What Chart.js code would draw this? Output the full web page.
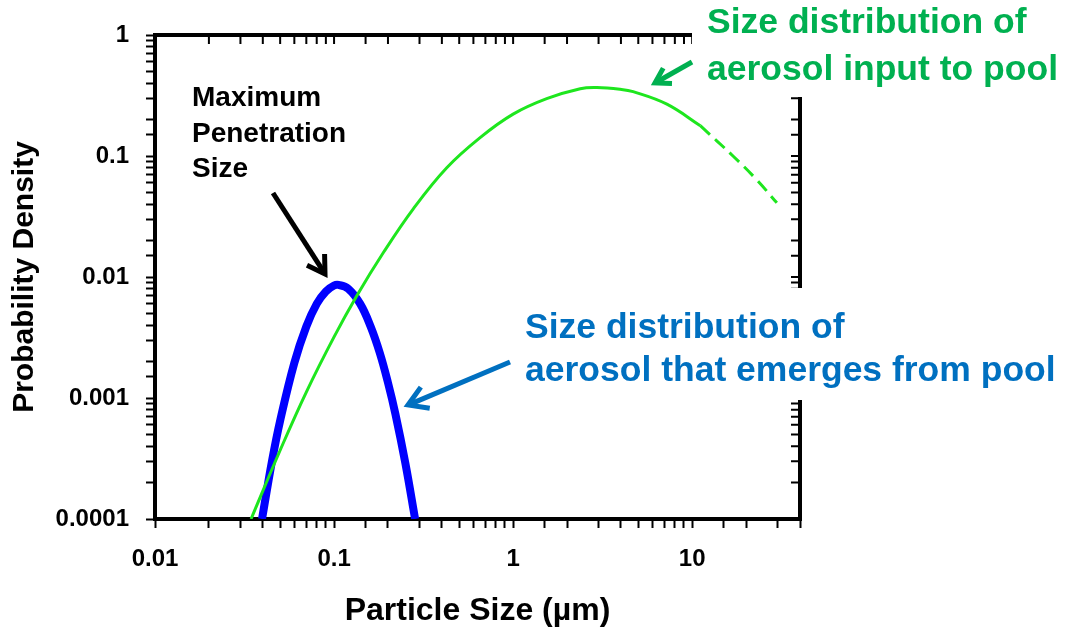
<!DOCTYPE html>
<html>
<head>
<meta charset="utf-8">
<title>Particle size distributions</title>
<script src="https://cdn.jsdelivr.net/npm/chart.js@4/dist/chart.umd.min.js"></script>
<style>
    body { margin: 0; background: #ffffff; }
    #wrap { width: 1071px; height: 633px; }
</style>
</head>
<body>
<div id="wrap"><canvas id="size-chart" width="1071" height="633"></canvas></div>
<script>
// size-chart - input aerosol vs aerosol that gets through the pool
// log-log plot, probability density vs particle size


// green curve - aerosol going into the pool (solid part)
const inputSizes = [0.0344, 0.05, 0.07, 0.1, 0.134, 0.189, 0.277, 0.426, 0.654, 1.0, 1.54, 2.37, 2.94, 3.96, 4.68, 7.22, 11.1];
const inputDensity = [0.0001, 0.00037, 0.00112, 0.0032, 0.007, 0.016, 0.0366, 0.08, 0.142, 0.222, 0.298, 0.36, 0.368, 0.356, 0.34, 0.268, 0.178];

// green curve - dashed tail past ~11 um
const tailSizes = [11.1, 16.9, 23.0, 29.7];
const tailDensity = [0.178, 0.100, 0.0633, 0.041];

// blue curve - aerosol that comes out of the pool
const outputSizes = [0.0396, 0.045, 0.05, 0.06, 0.07, 0.08, 0.09, 0.1, 0.106, 0.12, 0.14, 0.16, 0.18, 0.2, 0.22, 0.25, 0.2835];
const outputDensity = [0.0001, 0.0003, 0.00065, 0.00195, 0.0039, 0.006, 0.0076, 0.0085, 0.0086, 0.008, 0.006, 0.0039, 0.00236, 0.00134, 0.00074, 0.00029, 0.0001];

// axis ticks that get a label
const xTickValues = [0.01, 0.1, 1, 10];
const xTickLabels = ['0.01', '0.1', '1', '10'];
const yTickValues = [0.0001, 0.001, 0.01, 0.1, 1];
const yTickLabels = ['0.0001', '0.001', '0.01', '0.1', '1'];

// colors
const COLOR_LIME = '#1ee61e';
const COLOR_BLUE = '#0000ff';
const COLOR_TEXT_GREEN = '#00b050';
const COLOR_TEXT_BLUE = '#0070c0';

const FONT = '"Liberation Sans", Arial, sans-serif';


// turns two arrays into [{x, y}, ...] for chart.js
function toPoints(xs, ys) {
    const points = [];
    for (let i = 0; i < xs.length; i++) {
        points.push({ x: xs[i], y: ys[i] });
    }
    return points;
}


// finds the label for a tick value (log ticks are not always exact)
function labelFor(value, values, labels) {
    for (let i = 0; i < values.length; i++) {
        if (Math.abs(value - values[i]) / values[i] < 1e-6) {
            return labels[i];
        }
    }
    return '';
}


// a line with an open "V" head at (x2, y2)
function drawArrow(ctx, x1, y1, x2, y2, color, width, head) {
    const ang = Math.atan2(y2 - y1, x2 - x1);
    ctx.strokeStyle = color;
    ctx.lineWidth = width;
    ctx.lineCap = 'butt';
    ctx.lineJoin = 'miter';
    ctx.beginPath();
    ctx.moveTo(x1, y1);
    ctx.lineTo(x2 - 3 * Math.cos(ang), y2 - 3 * Math.sin(ang));
    ctx.stroke();
    ctx.beginPath();
    ctx.moveTo(x2 - head * Math.cos(ang - 0.55), y2 - head * Math.sin(ang - 0.55));
    ctx.lineTo(x2, y2);
    ctx.lineTo(x2 - head * Math.cos(ang + 0.55), y2 - head * Math.sin(ang + 0.55));
    ctx.stroke();
}


// draws the top/right frame, the text boxes and the arrows
const annotationPlugin = {
    id: 'annotations',
    afterDraw(chart) {
        const ctx = chart.ctx;
        const area = chart.chartArea;
        const xScale = chart.scales.x;
        const yScale = chart.scales.y;

        ctx.save();

        // top and right side of the box
        ctx.strokeStyle = '#000000';
        ctx.lineWidth = 4;
        ctx.beginPath();
        ctx.moveTo(area.left - 2, area.top);
        ctx.lineTo(area.right, area.top);
        ctx.lineTo(area.right, area.bottom + 2);
        ctx.stroke();

        // mirror ticks pointing inside
        ctx.lineWidth = 2;
        ctx.beginPath();
        xScale.ticks.forEach(function(t) {
            const px = xScale.getPixelForValue(t.value);
            ctx.moveTo(px, area.top);
            ctx.lineTo(px, area.top + 9);
        });
        yScale.ticks.forEach(function(t) {
            const py = yScale.getPixelForValue(t.value);
            ctx.moveTo(area.right, py);
            ctx.lineTo(area.right - 9, py);
        });
        ctx.stroke();

        // the two text boxes have a white fill that hides the frame
        ctx.fillStyle = '#ffffff';
        ctx.fillRect(692, 0, 379, 97);
        ctx.fillRect(512, 288, 559, 112);

        ctx.textBaseline = 'alphabetic';
        ctx.textAlign = 'left';

        // black label
        ctx.fillStyle = '#000000';
        ctx.font = 'bold 28px ' + FONT;
        ctx.fillText('Maximum', 192, 106);
        ctx.fillText('Penetration', 192, 142);
        ctx.fillText('Size', 192, 177);

        // green label
        ctx.fillStyle = COLOR_TEXT_GREEN;
        ctx.font = 'bold 35.5px ' + FONT;
        ctx.fillText('Size distribution of', 707, 33);
        ctx.fillText('aerosol input to pool', 707, 80);

        // blue label
        ctx.fillStyle = COLOR_TEXT_BLUE;
        ctx.fillText('Size distribution of', 525, 338);
        ctx.fillText('aerosol that emerges from pool', 525, 381);

        // arrows
        drawArrow(ctx, 273, 193, 325, 274, '#000000', 5, 20);
        drawArrow(ctx, 692, 62, 655, 83, COLOR_TEXT_GREEN, 5, 17);
        drawArrow(ctx, 510, 362, 408, 405, COLOR_TEXT_BLUE, 5, 22);

        ctx.restore();
    }
};


function drawChart() {
    const ctx = document.getElementById('size-chart').getContext('2d');

    new Chart(ctx, {
        type: 'line',
        data: {
            datasets: [
                {
                    label: 'input',
                    data: toPoints(inputSizes, inputDensity),
                    borderColor: COLOR_LIME,
                    borderWidth: 3,
                    pointRadius: 0,
                    tension: 0.4
                },
                {
                    label: 'input tail',
                    data: toPoints(tailSizes, tailDensity),
                    borderColor: COLOR_LIME,
                    borderWidth: 3,
                    borderDash: [13, 7],
                    pointRadius: 0,
                    tension: 0.4
                },
                {
                    label: 'output',
                    data: toPoints(outputSizes, outputDensity),
                    borderColor: COLOR_BLUE,
                    borderWidth: 8,
                    pointRadius: 0,
                    tension: 0.4
                }
            ]
        },
        options: {
            responsive: false,
            animation: false,
            layout: {
                padding: { left: 0, top: 35, right: 271, bottom: 0 }
            },
            plugins: {
                legend: { display: false },
                tooltip: { enabled: false }
            },
            scales: {
                x: {
                    type: 'logarithmic',
                    min: 0.01,
                    max: 40,
                    afterFit: function(scale) { scale.height = 114; },
                    border: { display: true, color: '#000000', width: 4 },
                    grid: {
                        drawOnChartArea: false,
                        drawTicks: true,
                        tickLength: 9,
                        tickWidth: 2,
                        tickColor: '#000000'
                    },
                    ticks: {
                        autoSkip: false,
                        maxRotation: 0,
                        padding: 17,
                        color: '#000000',
                        font: { family: FONT, size: 24, weight: 'bold' },
                        callback: function(value) {
                            return labelFor(value, xTickValues, xTickLabels);
                        }
                    },
                    title: {
                        display: true,
                        text: 'Particle Size (\u00b5m)',
                        color: '#000000',
                        font: { family: FONT, size: 32, weight: 'bold' },
                        padding: { top: 0, bottom: 3 }
                    }
                },
                y: {
                    type: 'logarithmic',
                    min: 0.0001,
                    max: 1,
                    afterFit: function(scale) { scale.width = 155; },
                    border: { display: true, color: '#000000', width: 4 },
                    grid: {
                        drawOnChartArea: false,
                        drawTicks: true,
                        tickLength: 9,
                        tickWidth: 2,
                        tickColor: '#000000'
                    },
                    ticks: {
                        autoSkip: false,
                        padding: 17,
                        color: '#000000',
                        font: { family: FONT, size: 24, weight: 'bold' },
                        callback: function(value) {
                            return labelFor(value, yTickValues, yTickLabels);
                        }
                    },
                    title: {
                        display: true,
                        text: 'Probability Density',
                        color: '#000000',
                        font: { family: FONT, size: 30, weight: 'bold' },
                        padding: { top: 7, bottom: 0 }
                    }
                }
            }
        },
        plugins: [annotationPlugin]
    });
}

drawChart();
</script>
</body>
</html>
